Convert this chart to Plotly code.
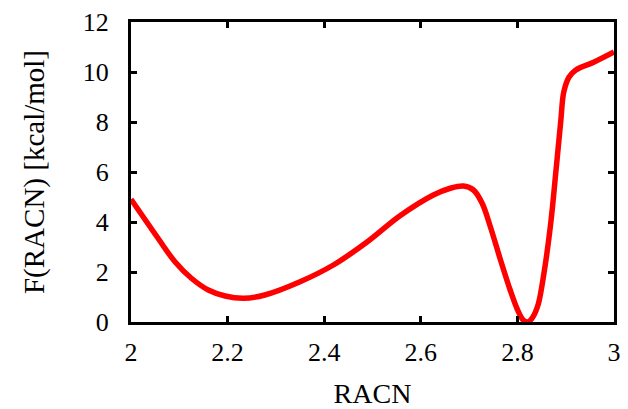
import plotly.graph_objects as go

racn = [2.0, 2.056, 2.091, 2.125, 2.160, 2.195, 2.233, 2.277, 2.35, 2.419,
        2.488, 2.557, 2.626, 2.661, 2.688, 2.709, 2.727, 2.744, 2.765, 2.785,
        2.80, 2.812, 2.822, 2.832, 2.843, 2.855, 2.869, 2.880, 2.890, 2.896,
        2.907, 2.921, 2.959, 3.0]
free_energy = [4.91, 3.35, 2.41, 1.75, 1.28, 1.04, 0.95, 1.08, 1.61, 2.28,
               3.19, 4.25, 5.08, 5.35, 5.44, 5.28, 4.75, 3.81, 2.48, 1.28,
               0.50, 0.08, 0.0, 0.2, 0.7, 1.95, 3.95, 6.08, 8.08, 9.2,
               9.8, 10.08, 10.4, 10.8]

x_ticks = [2, 2.2, 2.4, 2.6, 2.8, 3]
x_tick_labels = ["2", "2.2", "2.4", "2.6", "2.8", "3"]
y_ticks = [0, 2, 4, 6, 8, 10, 12]
y_tick_labels = ["0", "2", "4", "6", "8", "10", "12"]

fig = go.Figure()
fig.add_trace(go.Scatter(
    x=racn, y=free_energy, mode="lines",
    line=dict(color="#ff0000", width=5.5, shape="spline", smoothing=1.0),
    showlegend=False, hoverinfo="skip",
))

font_family = "Liberation Serif, Times New Roman, serif"
axis_common = dict(
    showline=True, linecolor="black", linewidth=3, mirror="ticks",
    ticks="inside", ticklen=6, tickwidth=2.5, tickcolor="black",
    showgrid=False, zeroline=False, automargin=False,
    tickfont=dict(family=font_family, size=26, color="black"),
)

fig.update_layout(
    width=628, height=409,
    margin=dict(l=131, r=14, t=22, b=87),
    paper_bgcolor="white", plot_bgcolor="white",
    font=dict(family=font_family, color="black"),
    xaxis=dict(
        range=[2, 3], tickvals=x_ticks, ticktext=x_tick_labels,
        title=dict(text="RACN", font=dict(family=font_family, size=28), standoff=19),
        ticklabelstandoff=5,
        **axis_common,
    ),
    yaxis=dict(
        range=[0, 12], tickvals=y_ticks, ticktext=y_tick_labels,
        title=dict(text="F(RACN) [kcal/mol]", font=dict(family=font_family, size=29), standoff=30),
        ticklabelstandoff=14,
        **axis_common,
    ),
)

fig.write_html("out.html", config={"displayModeBar": False},
               post_script="document.body.style.margin='0';")
